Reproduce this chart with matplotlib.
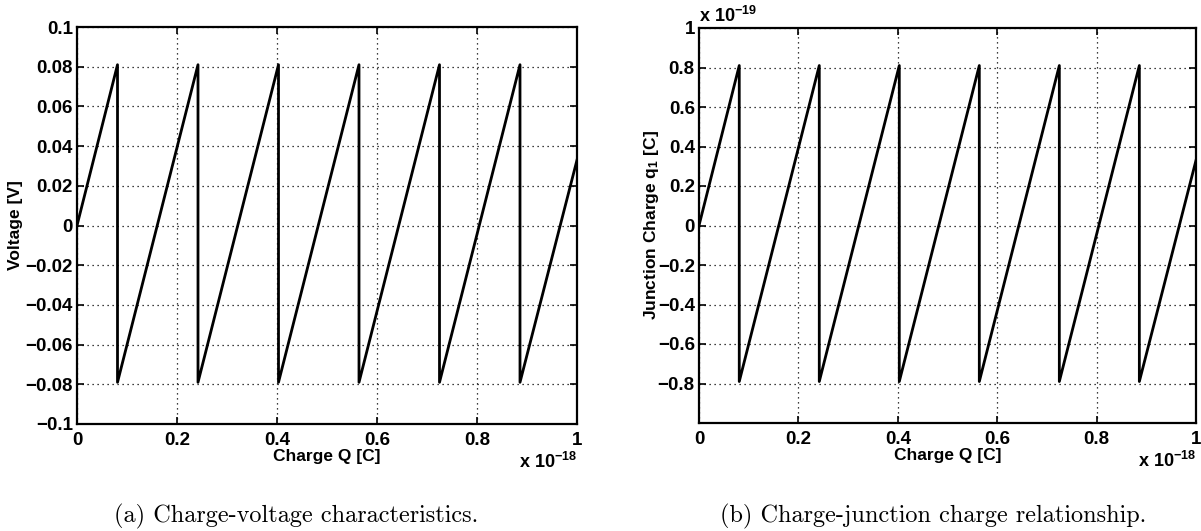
import matplotlib
matplotlib.use("Agg")
import matplotlib.pyplot as plt
from matplotlib.ticker import FixedLocator, FixedFormatter

plt.rcParams['font.family'] = ['Liberation Sans', 'DejaVu Sans']
plt.rcParams['font.weight'] = 'bold'
plt.rcParams['axes.labelweight'] = 'bold'
plt.rcParams['mathtext.fontset'] = 'custom'
plt.rcParams['mathtext.rm'] = 'Liberation Sans:bold'
plt.rcParams['mathtext.bf'] = 'Liberation Sans:bold'
plt.rcParams['mathtext.it'] = 'Liberation Sans:bold'

# Data (charge in units of 1e-18 C)
charge_q = [0.0, 0.081, 0.081, 0.242, 0.242, 0.403, 0.403, 0.564, 0.564,
            0.725, 0.725, 0.886, 0.886, 1.0]
voltage = [0.0, 0.081, -0.079, 0.081, -0.079, 0.081, -0.079, 0.081, -0.079,
           0.081, -0.079, 0.081, -0.079, 0.033]
# junction charge in units of 1e-19 C
junction_q1 = [0.0, 0.81, -0.79, 0.81, -0.79, 0.81, -0.79, 0.81, -0.79,
               0.81, -0.79, 0.81, -0.79, 0.33]

x_ticks = [0, 0.2, 0.4, 0.6, 0.8, 1.0]
x_labels = ["0", "0.2", "0.4", "0.6", "0.8", "1"]
v_ticks = [-0.1, -0.08, -0.06, -0.04, -0.02, 0, 0.02, 0.04, 0.06, 0.08, 0.1]
v_labels = ["\u22120.1", "\u22120.08", "\u22120.06", "\u22120.04", "\u22120.02", "0",
            "0.02", "0.04", "0.06", "0.08", "0.1"]
j_ticks = [-0.8, -0.6, -0.4, -0.2, 0, 0.2, 0.4, 0.6, 0.8, 1.0]
j_labels = ["\u22120.8", "\u22120.6", "\u22120.4", "\u22120.2", "0",
            "0.2", "0.4", "0.6", "0.8", "1"]

W, H = 1201, 531
fig = plt.figure(figsize=(W / 100, H / 100), dpi=100)

def px_axes(x0, y0, x1, y1):
    return fig.add_axes([x0 / W, 1 - y1 / H, (x1 - x0) / W, (y1 - y0) / H])

ax1 = px_axes(77, 27, 577, 424)
ax2 = px_axes(699, 28, 1196, 423)

label_size = 12.5

def style(ax, yticks, ylabels, ylim):
    ax.set_xlim(0, 1)
    ax.set_ylim(*ylim)
    ax.xaxis.set_major_locator(FixedLocator(x_ticks))
    ax.xaxis.set_major_formatter(FixedFormatter(x_labels))
    ax.yaxis.set_major_locator(FixedLocator(yticks))
    ax.yaxis.set_major_formatter(FixedFormatter(ylabels))
    ax.tick_params(direction="in", length=5, width=1.2, top=True, right=True,
                   labelsize=13.5)
    ax.tick_params(axis="y", pad=3)
    ax.tick_params(axis="x", pad=6)
    ax.grid(True, linestyle=(0, (1, 3)), color="black", linewidth=0.9)
    for s in ax.spines.values():
        s.set_linewidth(1.6)
        s.set_color("black")

ax1.plot(charge_q, voltage, color="black", linewidth=2.0)
style(ax1, v_ticks, v_labels, (-0.1, 0.1))
ax1.set_xlabel("Charge Q [C]", fontsize=label_size, fontweight="bold")
ax1.set_ylabel("Voltage [V]", fontsize=label_size, fontweight="bold")
ax1.xaxis.set_label_coords(0.5, (424 - 449) / 397)
ax1.yaxis.set_label_coords((23 - 77) / 500, 0.5)
ax1.text(1.0, (424 - 452) / 397, r"x 10$^{-18}$", transform=ax1.transAxes,
         ha="right", va="top", fontsize=13)

ax2.plot(charge_q, junction_q1, color="black", linewidth=2.0)
style(ax2, j_ticks, j_labels, (-1, 1))
ax2.set_xlabel("Charge Q [C]", fontsize=label_size, fontweight="bold")
ax2.set_ylabel(r"Junction Charge q$_1$ [C]", fontsize=label_size,
               fontweight="bold")
ax2.xaxis.set_label_coords(0.5, (423 - 448) / 395)
ax2.yaxis.set_label_coords((661 - 699) / 497, 0.5)
ax2.text(1.0, (423 - 451) / 395, r"x 10$^{-18}$", transform=ax2.transAxes,
         ha="right", va="top", fontsize=13)
ax2.text(0.0, 1.005, r"x 10$^{-19}$", transform=ax2.transAxes, ha="left",
         va="bottom", fontsize=13)

cap_font = dict(family="cmr10", size=17.5, weight="normal")
fig.text(296 / W, 1 - 522 / H, "(a) Charge-voltage characteristics.",
         ha="center", va="baseline", **cap_font)
fig.text(933 / W, 1 - 522 / H, "(b) Charge-junction charge relationship.",
         ha="center", va="baseline", **cap_font)

fig.savefig("out.png", dpi=100)
